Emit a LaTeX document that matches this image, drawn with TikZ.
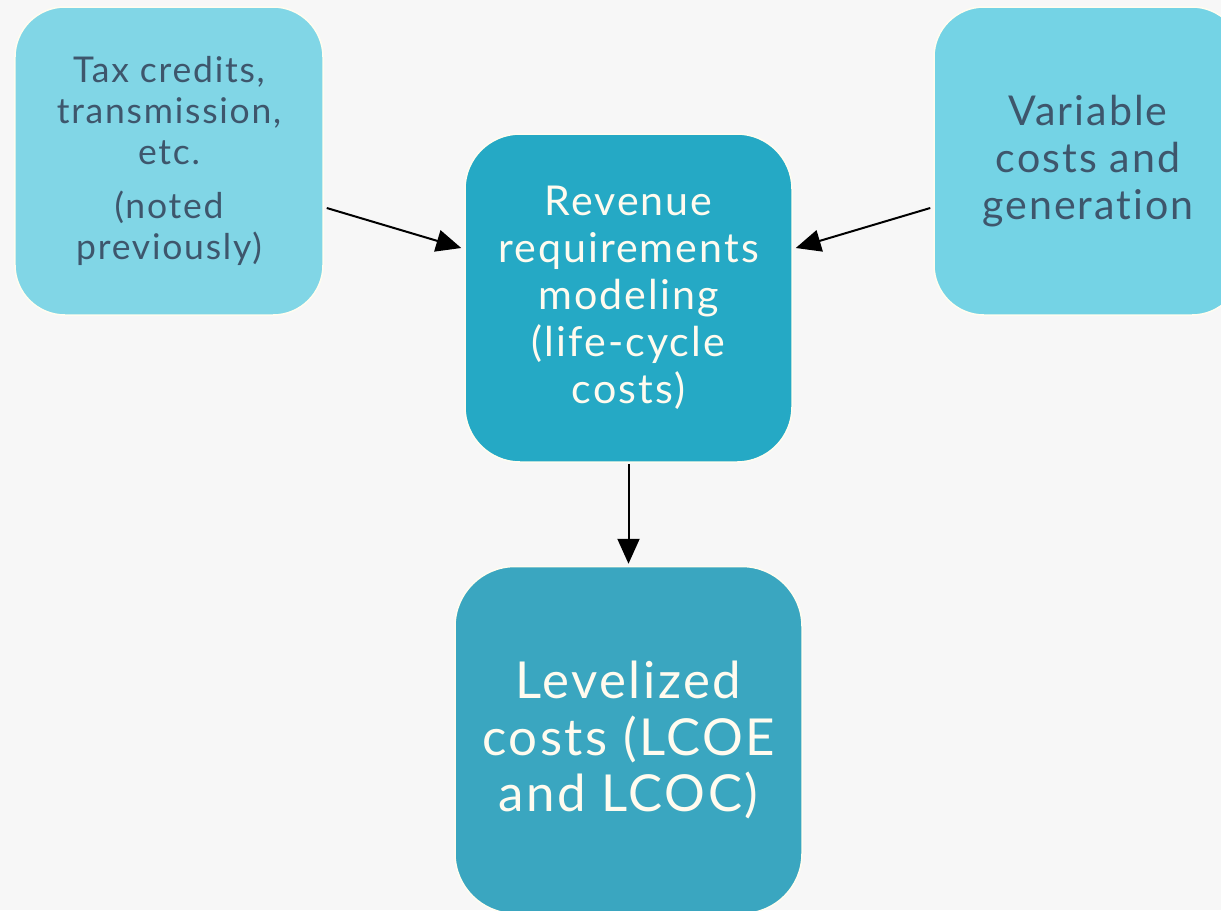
\documentclass[tikz,border=0pt]{standalone}
\usepackage{fontspec}
\setmainfont{Lato}[LetterSpace=5, Ligatures=NoCommon]
\usetikzlibrary{arrows.meta}

\definecolor{bgcol}{HTML}{F7F7F7}
\definecolor{edgecol}{HTML}{FFFDF0}
\definecolor{paleblue}{HTML}{81D6E6}
\definecolor{skyblue}{HTML}{74D3E5}
\definecolor{tealblue}{HTML}{25A9C5}
\definecolor{deepteal}{HTML}{3AA6C0}
\definecolor{slatetext}{HTML}{3E566C}
\definecolor{creamtext}{HTML}{FFFBEF}

\begin{document}
\begin{tikzpicture}[x=0.2mm,y=-0.2mm]

        \tikzset{
            box/.style={draw=edgecol, line width=0.3mm, rounded corners=10mm,
                align=center, inner sep=0pt},
            input/.style={box, minimum width=61.6mm, minimum height=61.6mm,
                text=slatetext},
            core/.style={box, minimum width=65.4mm, minimum height=65.6mm,
                fill=tealblue, text=creamtext, rounded corners=11mm},
            result/.style={box, minimum width=69.4mm, minimum height=69.4mm,
                fill=deepteal, text=creamtext, rounded corners=12mm},
            link/.style={-{Triangle[length=5mm, width=4.4mm]}, line width=0.4mm}
        }

        \fill[bgcol] (0,0) rectangle (1221,910);
        \useasboundingbox (0,0) rectangle (1221,910);

        \node[input, fill=paleblue,
            font=\fontsize{20.2}{23.3}\selectfont] (tax) at (169,161)
        {Tax credits,\\transmission,\\etc.\\[2.6mm](noted\\previously)};

        \node[input, fill=skyblue,
            font=\fontsize{23.4}{26.7}\selectfont] (var) at (1088,161)
        {Variable\\costs and\\generation};

        \node[core, font=\fontsize{23.4}{26.7}\selectfont] (rev) at (628.5,298)
        {Revenue\\requirements\\modeling\\(life-cycle\\costs)};

        \node[result, font=\fontsize{29}{32.4}\selectfont] (lvl) at (628.5,740)
        {Levelized\\costs (LCOE\\and LCOC)};

        \draw[link] ([shift={(3,47)}]tax.east) -- ([shift={(-3,-50)}]rev.west);
        \draw[link] ([shift={(-3,47)}]var.west) -- ([shift={(3,-50)}]rev.east);
        \draw[link] ([shift={(0,1)}]rev.south) -- ([shift={(0,-2)}]lvl.north);

    \end{tikzpicture}
\end{document}
